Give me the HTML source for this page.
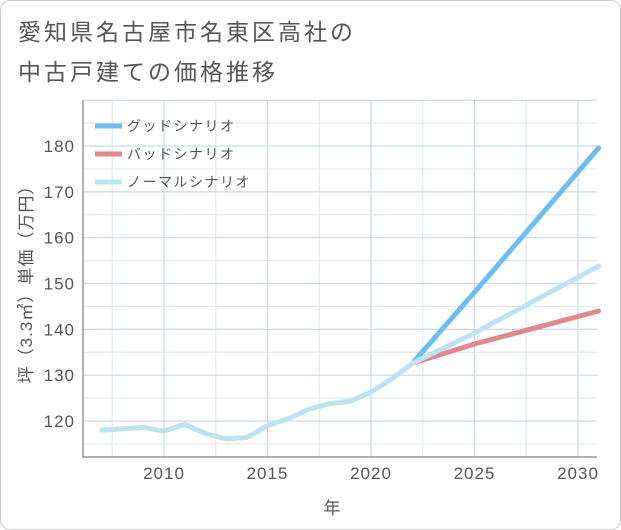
<!DOCTYPE html>
<html><head><meta charset="utf-8"><style>
body{margin:0;background:#fff;}
#frame{position:absolute;left:0;top:0;width:619px;height:528px;border:1px solid #ccc;border-radius:10px;background:#fff;}
.t{font-family:"Liberation Sans","Noto Sans CJK JP",sans-serif;}
</style></head><body>
<div id="frame"></div>
<svg id="c" width="621" height="530" style="position:absolute;left:0;top:0">
<text class="t" x="18" y="40" font-size="23" letter-spacing="3" fill="#555">愛知県名古屋市名東区高社の</text>
<text class="t" x="18" y="80" font-size="23" letter-spacing="3" fill="#555">中古戸建ての価格推移</text>
<g id="grid"></g><g id="axes"></g><g id="series"></g>
<g id="legend"></g>
<text class="t" x="332" y="514" font-size="17" fill="#555" text-anchor="middle">年</text>
<text class="t" transform="translate(32,280) rotate(-90)" font-size="17" letter-spacing="1" fill="#555" text-anchor="middle">坪（3.3㎡）単価（万円）</text>
</svg>
<script>
const years=[2007,2008,2009,2010,2011,2012,2013,2014,2015,2016,2017,2018,2019,2020,2021,2022];
const hist=[118,118.3,118.6,117.8,119.3,117.3,116.1,116.4,119,120.5,122.6,123.8,124.3,126.3,129.2,132.6];
const projYears=[2022,2025,2031];
const good=[132.6,148.1,179.6];
const bad=[132.6,136.8,144];
const normal=[132.6,139.2,153.8];
const xTicks=[2010,2015,2020,2025,2030];
const yTicks=[120,130,140,150,160,170,180];
const NS="http://www.w3.org/2000/svg";
const L=83,R=597,T=100,B=457;
const X=y=>164+(y-2010)*20.7;
const Y=v=>421-(v-120)*4.583;
function mk(t,a,p){const e=document.createElementNS(NS,t);for(const k in a)e.setAttribute(k,a[k]);document.getElementById(p).appendChild(e);return e;}
for(let y=2007.5;y<=2031;y+=2.5){const major=Number.isInteger(y/5);const g=mk('line',{x1:X(y),x2:X(y),y1:T,y2:B,stroke:major?'#c9d9e6':'#e2eaf1','stroke-width':1.2},'grid');

}
for(let v=115;v<=190;v+=5){const yy=Y(v);if(yy<T||yy>B)continue;const g=mk('line',{x1:L,x2:R,y1:yy,y2:yy,stroke:v%10==0?'#c9d9e6':'#e2eaf1','stroke-width':1.2},'grid');

}
const ax=mk('path',{d:`M${L},${T}V${B}H${R}`,fill:'none',stroke:'#666','stroke-width':1},'axes');


xTicks.forEach(t=>{const e=mk('text',{x:X(t),y:B+22,'font-size':17,'letter-spacing':1,fill:'#555','text-anchor':'middle',class:'t'},'axes');e.textContent=t;

});
yTicks.forEach(t=>{const e=mk('text',{x:L-8,y:Y(t)+6,'font-size':17,'letter-spacing':1,fill:'#555','text-anchor':'end',class:'t'},'axes');e.textContent=t;

});
function line(xs,vs,c,name){const p=mk('polyline',{points:xs.map((x,i)=>X(x)+','+Y(vs[i])).join(' '),fill:'none',stroke:c,'stroke-width':5,'stroke-linejoin':'round','stroke-linecap':'round'},'series');

}
line(projYears,good,'#6bbdf2','good-scenario-line');
line(projYears,bad,'#e0878f','bad-scenario-line');
line(projYears,normal,'#bde2f0','normal-scenario-line');
line(years,hist,'#bde2f0','historical-line');
const leg=[['グッドシナリオ','#6bbdf2'],['バッドシナリオ','#e0878f'],['ノーマルシナリオ','#bde2f0']];
leg.forEach((l,i)=>{const y=126+i*28;
const r=mk('line',{x1:95,x2:122,y1:y,y2:y,stroke:l[1],'stroke-width':5},'legend');


const t=mk('text',{x:127,y:y+5,'font-size':14,'letter-spacing':1.5,fill:'#555',class:'t'},'legend');t.textContent=l[0];

});
</script>
</body></html>
